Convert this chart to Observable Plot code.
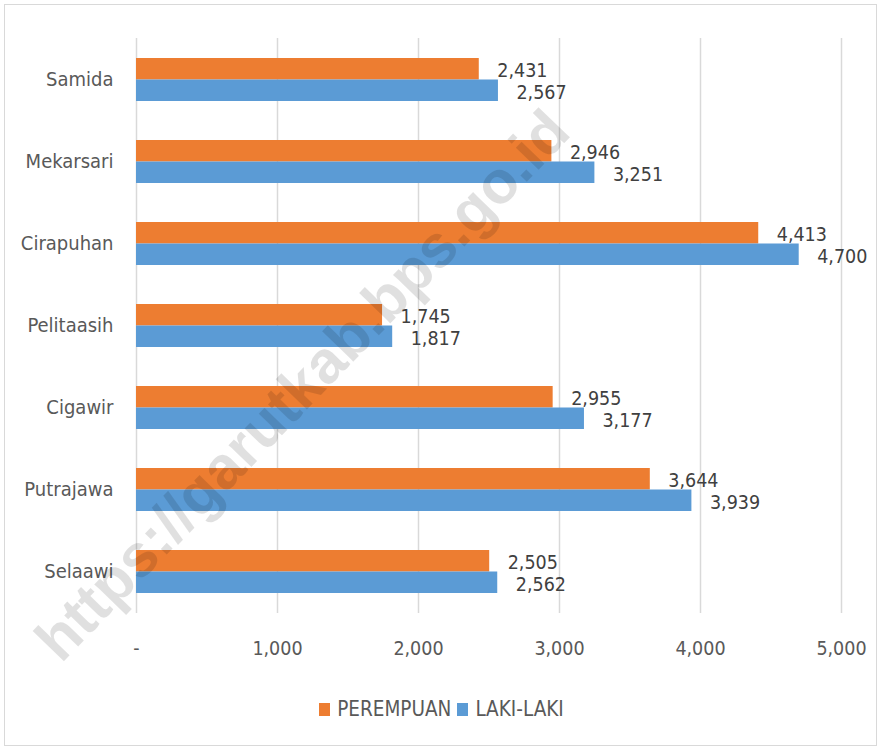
<!DOCTYPE html>
<html>
<head>
<meta charset="utf-8">
<script src="https://cdn.jsdelivr.net/npm/d3@7"></script>
<script src="https://cdn.jsdelivr.net/npm/@observablehq/plot@0.6"></script>
<style>
  html, body { margin: 0; padding: 0; background: #fff; }
  #wrap { position: relative; width: 883px; height: 751px; overflow: hidden; font-family: "Liberation Sans Narrow", "DejaVu Sans Condensed", sans-serif; }
  #border { position: absolute; left: 4px; top: 4px; width: 873px; height: 742px; border: 1px solid #d9d9d9; box-sizing: border-box; pointer-events: none; }
  #legend { position: absolute; left: 0; top: 697px; width: 883px; display: flex; justify-content: center; align-items: center; font-size: 20.5px; color: #595959; }
  .item { display: flex; align-items: center; margin: 0 3px; }
  .sw { width: 11px; height: 13px; margin-right: 7px; }
</style>
</head>
<body>
<div id="wrap"><div id="chart"></div><div id="legend"></div><div id="border"></div></div>
<script>
const categories = ["Samida", "Mekarsari", "Cirapuhan", "Pelitaasih", "Cigawir", "Putrajawa", "Selaawi"];
const perempuan = [2431, 2946, 4413, 1745, 2955, 3644, 2505];
const lakiLaki = [2567, 3251, 4700, 1817, 3177, 3939, 2562];
const seriesNames = ["PEREMPUAN", "LAKI-LAKI"];
const seriesColors = ["#ED7D31", "#5B9BD5"];
const xTicks = [0, 1000, 2000, 3000, 4000, 5000];
const watermark = "https://garutkab.bps.go.id";

const W = 883, H = 680, mt = 38, mb = 67, ml = 136, mr = 42;
const padInner = 0.478, padOuter = 0.23;
const n = categories.length;
const step = (H - mt - mb) / (n - padInner + 2 * padOuter);
const bw = step * (1 - padInner);
const half = bw / 2;

const rows = categories.map((c, i) => ({cat: c, p: perempuan[i], l: lakiLaki[i]}));
const fmt = d3.format(",");
const font = "'Liberation Sans Narrow', 'DejaVu Sans Condensed', sans-serif";

const chart = Plot.plot({
  width: W, height: H,
  marginTop: mt, marginBottom: mb, marginLeft: ml, marginRight: mr,
  style: {fontFamily: font, background: "transparent"},
  x: {domain: [0, 5000], ticks: xTicks, tickFormat: d => d === 0 ? "-" : fmt(d)},
  y: {domain: categories, paddingInner: padInner, paddingOuter: padOuter},
  marks: [
    Plot.gridX(xTicks, {stroke: "#d9d9d9", strokeOpacity: 1, strokeWidth: 1.5}),
    Plot.barX(rows, {x: "p", y: "cat", fill: seriesColors[0], insetBottom: half}),
    Plot.barX(rows, {x: "l", y: "cat", fill: seriesColors[1], insetTop: half}),
    Plot.text(rows, {x: "p", y: "cat", text: d => fmt(d.p), dy: -half / 2 + 1, dx: 18, textAnchor: "start", fill: "#404040", fontSize: 19.5}),
    Plot.text(rows, {x: "l", y: "cat", text: d => fmt(d.l), dy: half / 2 + 2, dx: 18, textAnchor: "start", fill: "#404040", fontSize: 19.5}),
    Plot.axisX({ticks: xTicks, tickSize: 0, tickPadding: 28, fontSize: 19.5, color: "#595959", tickFormat: d => d === 0 ? "-" : fmt(d), label: null}),
    Plot.axisY({tickSize: 0, tickPadding: 23, fontSize: 20, color: "#595959", label: null}),
    Plot.text([watermark], {text: d => d, frameAnchor: "middle", dx: -186, dy: 60, rotate: -46, fontSize: 60, fontWeight: "bold", fontFamily: "'Liberation Sans', 'DejaVu Sans', sans-serif", fill: "#000", fillOpacity: 0.12})
  ]
});
document.getElementById("chart").appendChild(chart);

const legend = document.getElementById("legend");
seriesNames.forEach((s, i) => {
  const it = document.createElement("div");
  it.className = "item";
  const sw = document.createElement("span");
  sw.className = "sw";
  sw.style.background = seriesColors[i];
  const t = document.createElement("span");
  t.textContent = s;
  it.appendChild(sw); it.appendChild(t);
  legend.appendChild(it);
});
</script>
</body>
</html>
